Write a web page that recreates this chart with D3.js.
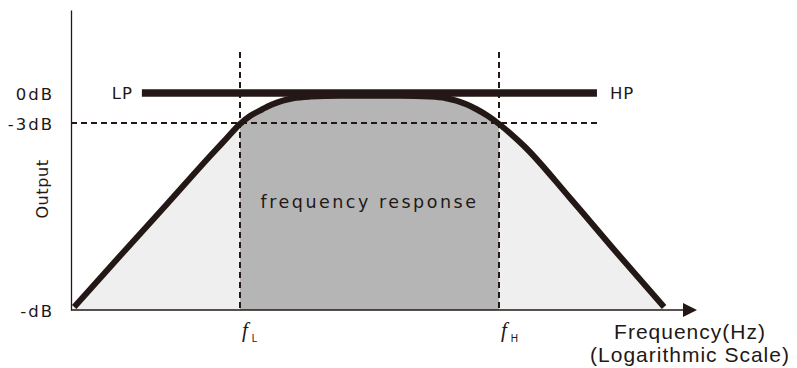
<!DOCTYPE html>
<html>
<head>
  <meta charset="utf-8">
  <title>Band-pass frequency response</title>
  <script src="https://d3js.org/d3.v7.min.js"></script>
  <style>
    body { margin: 0; background: #fff; }
    .lbl { font-family: "DejaVu Sans", sans-serif; fill: #231815; }
    .axis-y text { font-family: "DejaVu Sans", sans-serif; font-size: 16.5px; letter-spacing: 2px; fill: #231815; }
    .guide { shape-rendering: crispEdges; }
  </style>
</head>
<body>
  <svg width="797" height="368"></svg>
  <script>
    // response curve (frequency in Hz, gain in dB)
    const freq = [22.9, 34.4, 52.3, 78.6, 88.3, 100, 109.3, 121.6, 132.9, 145.3, 160.2, 186.4, 243, 415,
                  541.5, 624.3, 688.4, 752.2, 822.6, 906.9, 1000, 1112, 1249, 1880, 2855, 4336];
    const gain = [-21.4, -16.3, -11.1, -6.0, -4.6, -3.1, -2.3, -1.65, -1.15, -0.78, -0.52, -0.36, -0.28, -0.28,
                  -0.36, -0.52, -0.78, -1.15, -1.65, -2.3, -3.1, -4.1, -5.3, -10.5, -16.0, -21.4];

    const fL = 100, fH = 1000;
    const yTickValues = [0, -3, -21.7];
    const yTickLabels = ["0dB", "-3dB", "-dB"];
    const cornerLabels = ["f", "L", "H"];
    const passLabels = ["LP", "HP"];
    const bandText = "frequency response";
    const xTitle = ["Frequency(Hz)", "(Logarithmic Scale)"];
    const yTitle = "Output";

    const svg = d3.select("svg");
    const ink = "#231815";

    const x = d3.scaleLog().domain([22.26, 5814]).range([71, 697]);
    const y = d3.scaleLinear().domain([-21.7, 8.3]).range([310, 10]);

    const pts = freq.map((f, i) => [x(f), y(gain[i])]);

    const area = d3.area()
      .x(d => d[0]).y0(y(-21.7)).y1(d => d[1])
      .curve(d3.curveMonotoneX);
    const line = d3.line()
      .x(d => d[0]).y(d => d[1])
      .curve(d3.curveMonotoneX);

    // fills
    svg.append("path").attr("d", area(pts)).attr("fill", "#eeefee");

    svg.append("clipPath").attr("id", "band")
      .append("rect")
      .attr("x", x(fL)).attr("y", 0)
      .attr("width", x(fH) - x(fL)).attr("height", 368);

    svg.append("path").attr("d", area(pts))
      .attr("fill", "#b5b5b5")
      .attr("clip-path", "url(#band)");

    // guides
    const dash = "6,4";
    [fL, fH].forEach(f => {
      svg.append("line").attr("class", "guide")
        .attr("x1", x(f)).attr("x2", x(f))
        .attr("y1", y(4.1)).attr("y2", y(-21.7))
        .attr("stroke", ink).attr("stroke-width", 1.3)
        .attr("stroke-dasharray", dash);
    });
    svg.append("line").attr("class", "guide")
      .attr("x1", x(22.26)).attr("x2", x(2389))
      .attr("y1", y(-3)).attr("y2", y(-3))
      .attr("stroke", ink).attr("stroke-width", 1.3)
      .attr("stroke-dasharray", dash);

    // LP / HP asymptote at 0 dB
    svg.append("line")
      .attr("x1", x(41.8)).attr("x2", x(2389))
      .attr("y1", y(0)).attr("y2", y(0))
      .attr("stroke", ink).attr("stroke-width", 7.5);

    svg.append("text").attr("class", "lbl")
      .attr("x", x(41.8) - 9).attr("y", y(0) + 6)
      .attr("text-anchor", "end").attr("font-size", 16.5)
      .attr("letter-spacing", 1)
      .text(passLabels[0]);
    svg.append("text").attr("class", "lbl")
      .attr("x", x(2389) + 13).attr("y", y(0) + 6)
      .attr("font-size", 16.5).attr("letter-spacing", 1)
      .text(passLabels[1]);

    // response curve
    svg.append("path").attr("d", line(pts))
      .attr("fill", "none").attr("stroke", ink)
      .attr("stroke-width", 6);

    // y axis
    const yAxis = svg.append("g").attr("class", "axis-y")
      .attr("transform", "translate(71,0)")
      .call(d3.axisLeft(y)
        .tickValues(yTickValues)
        .tickFormat((d, i) => yTickLabels[i])
        .tickSize(0).tickSizeOuter(0).tickPadding(17));
    yAxis.select(".domain").attr("stroke", ink).attr("stroke-width", 1.3);
    yAxis.selectAll("text").attr("dy", "0.42em");

    // x axis with arrow
    svg.append("line")
      .attr("x1", 71).attr("x2", 685)
      .attr("y1", y(-21.7)).attr("y2", y(-21.7))
      .attr("stroke", ink).attr("stroke-width", 1.3);
    svg.append("path")
      .attr("d", `M683,${y(-21.7) - 7}L697,${y(-21.7)}L683,${y(-21.7) + 7}Z`)
      .attr("fill", ink);

    // corner frequency labels
    [[fL, cornerLabels[1]], [fH, cornerLabels[2]]].forEach(([f, sub]) => {
      const t = svg.append("text")
        .attr("x", x(f) + 2).attr("y", 337)
        .attr("fill", ink);
      t.append("tspan")
        .attr("font-family", "Liberation Serif, serif")
        .attr("font-style", "italic").attr("font-size", 21)
        .text(cornerLabels[0]);
      t.append("tspan")
        .attr("dx", 4).attr("dy", 5)
        .attr("font-family", "Liberation Sans, sans-serif")
        .attr("font-size", 10)
        .text(sub);
    });

    // band label
    svg.append("text").attr("class", "lbl")
      .attr("x", (x(fL) + x(fH)) / 2).attr("y", 208)
      .attr("text-anchor", "middle")
      .attr("font-size", 17.5).attr("letter-spacing", 2.5)
      .text(bandText);

    // axis titles
    xTitle.forEach((t, i) => {
      svg.append("text")
        .attr("x", 690).attr("y", 339 + i * 23)
        .attr("text-anchor", "middle")
        .attr("font-family", "Liberation Sans, Arial, sans-serif")
        .attr("font-size", 21).attr("letter-spacing", 1)
        .attr("fill", ink)
        .text(t);
    });

    svg.append("text").attr("class", "lbl")
      .attr("transform", "translate(48,189) rotate(-90)")
      .attr("text-anchor", "middle")
      .attr("font-size", 16).attr("letter-spacing", 0.6)
      .text(yTitle);
  </script>
</body>
</html>
